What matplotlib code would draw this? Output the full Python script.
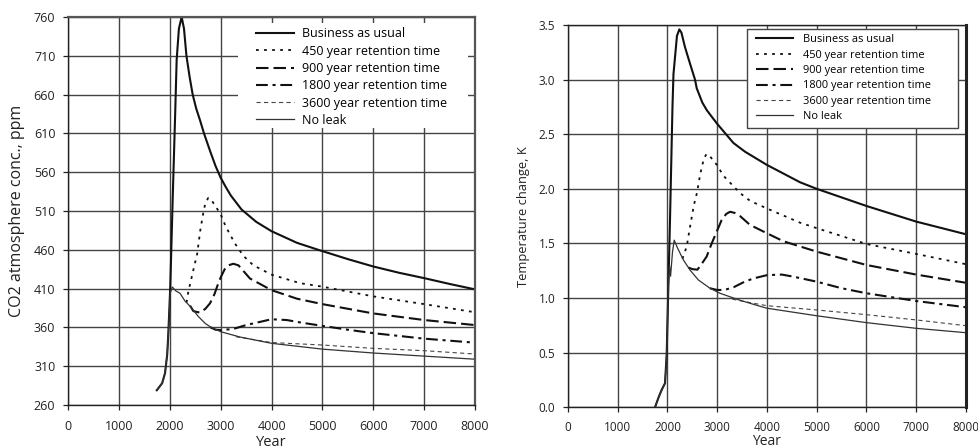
import matplotlib
matplotlib.use("Agg")
import matplotlib.pyplot as plt
from matplotlib.patches import Rectangle
from matplotlib.ticker import FormatStrFormatter

plt.rcParams['font.family'] = ['Open Sans', 'DejaVu Sans']
plt.rcParams['lines.scale_dashes'] = False

# ---------------- CO2 concentration (ppm) ----------------
co2_bau_years = [1745, 1850, 1907, 1950, 1972, 2010, 2057, 2103, 2136, 2180, 2234, 2280,
                 2328, 2390, 2451, 2520, 2595, 2673, 2800, 2900, 3000, 3100, 3200, 3410,
                 3700, 4000, 4500, 4918, 5500, 6000, 6500, 7000, 7500, 8000]
co2_bau = [279, 288, 301, 325, 352, 412, 524, 627, 705, 745, 760, 745,
           710, 683, 660, 642, 627, 610, 586, 568, 553, 541, 530, 512,
           496, 484, 469, 460, 448, 438.5, 430.5, 423.5, 416, 409]

co2_noleak_years = [1745, 1850, 1907, 1950, 1972, 2010, 2051, 2120, 2201, 2300, 2431, 2562,
                    2700, 2791, 3000, 3380, 4000, 5000, 6000, 7000, 8000]
co2_noleak = [279, 288, 301, 325, 352, 405, 412, 407, 404, 394, 385, 374,
              365, 361, 354.5, 347.6, 339.5, 332, 327, 323, 319]

co2_450_years = [2330, 2365, 2464, 2540, 2600, 2660, 2700, 2758, 2820, 2900, 3000, 3100,
                 3283, 3450, 3643, 4000, 4560, 5000, 6000, 7000, 8000]
co2_450 = [392, 406, 434, 455, 485, 508, 520, 527, 524, 516, 506, 490,
           468, 452, 440, 428, 417, 412.5, 400, 390, 379.5]

co2_900_years = [2400, 2464, 2595, 2700, 2791, 2880, 2955, 3005, 3080, 3152, 3250, 3350,
                 3577, 4000, 4500, 5000, 6000, 7000, 8000]
co2_900 = [388, 381, 379, 384, 391, 403, 417, 425, 435, 440, 442, 440,
           423, 408, 397, 390, 378, 369.5, 363]

co2_1800_years = [2800, 2900, 3000, 3250, 3500, 3700, 4000, 4300, 4600, 5000, 5500, 6000,
                  7000, 8000]
co2_1800 = [360, 357, 356.5, 358, 363, 366, 370.5, 369.5, 366, 362, 357, 352.6,
            345.5, 340.3]

co2_3600_years = [3300, 4000, 5000, 6000, 7000, 8000]
co2_3600 = [348, 340.5, 337.3, 333, 330, 325.7]

# ---------------- Temperature change (K) ----------------
t_bau_years = [1749, 1820, 1883, 1950, 1984, 2017, 2050, 2100, 2120, 2150, 2190, 2238,
               2280, 2350, 2450, 2553, 2588, 2700, 2790, 2990, 3325, 3558, 3995, 4665,
               5000, 6000, 7000, 8000]
t_bau = [0.0, 0.09, 0.16, 0.22, 0.49, 1.10, 1.71, 2.75, 3.05, 3.20, 3.40, 3.46,
         3.43, 3.30, 3.15, 3.00, 2.92, 2.79, 2.72, 2.60, 2.42, 2.34, 2.22, 2.06,
         2.00, 1.843, 1.70, 1.584]

t_noleak_years = [1749, 1820, 1883, 1950, 1984, 2017, 2040, 2062, 2100, 2135, 2200, 2318,
                  2452, 2620, 2854, 3055, 3457, 3859, 4000, 5000, 6000, 7000, 8000]
t_noleak = [0.0, 0.09, 0.16, 0.22, 0.49, 1.10, 1.30, 1.20, 1.42, 1.53, 1.46, 1.35,
            1.257, 1.166, 1.09, 1.044, 0.98, 0.925, 0.907, 0.838, 0.775, 0.723, 0.683]

t_450_years = [2300, 2385, 2452, 2530, 2590, 2660, 2733, 2787, 2850, 2990, 3125, 3333,
               3490, 3660, 4000, 4665, 5000, 6000, 7000, 8000]
t_450 = [1.36, 1.47, 1.65, 1.85, 1.96, 2.14, 2.28, 2.32, 2.30, 2.22, 2.12, 2.02,
         1.95, 1.89, 1.82, 1.69, 1.64, 1.495, 1.404, 1.31]

t_900_years = [2420, 2500, 2600, 2653, 2787, 2888, 3000, 3089, 3180, 3256, 3350, 3460,
               3658, 4000, 4330, 5000, 6000, 7000, 8000]
t_900 = [1.28, 1.265, 1.26, 1.29, 1.38, 1.50, 1.62, 1.715, 1.77, 1.79, 1.78, 1.75,
         1.67, 1.593, 1.52, 1.425, 1.303, 1.215, 1.14]

t_1800_years = [2850, 3000, 3150, 3333, 3550, 3730, 4000, 4300, 4530, 5000, 5500, 6000,
                7000, 8000]
t_1800 = [1.09, 1.074, 1.075, 1.10, 1.15, 1.18, 1.21, 1.215, 1.196, 1.15, 1.09, 1.044,
          0.973, 0.916]

t_3600_years = [3300, 3700, 4000, 5000, 6000, 7000, 8000]
t_3600 = [0.99, 0.955, 0.93, 0.891, 0.848, 0.80, 0.747]

labels = ["Business as usual", "450 year retention time", "900 year retention time",
          "1800 year retention time", "3600 year retention time", "No leak"]

x_ticks = [0, 1000, 2000, 3000, 4000, 5000, 6000, 7000, 8000]
co2_ticks = [260, 310, 360, 410, 460, 510, 560, 610, 660, 710, 760]
t_ticks = [0.0, 0.5, 1.0, 1.5, 2.0, 2.5, 3.0, 3.5]

styles = [
    dict(color="#111111", lw=1.5, ls="-"),
    dict(color="#111111", lw=1.3, ls=(0, (2.0, 3.8))),
    dict(color="#111111", lw=1.5, ls=(0, (9.0, 3.6))),
    dict(color="#111111", lw=1.5, ls=(0, (8.5, 3.4, 2.2, 3.4))),
    dict(color="#444444", lw=0.8, ls=(0, (3.0, 2.4))),
    dict(color="#333333", lw=0.9, ls="-"),
]

fig = plt.figure(figsize=(9.79, 4.48), dpi=100)
W, H = 979, 448


def px_axes(x0, y0, x1, y1):
    return fig.add_axes([x0 / W, 1 - y1 / H, (x1 - x0) / W, (y1 - y0) / H])


def style_axes(ax, yticks, ylim, fs, xpad, ypad):
    ax.set_xlim(0, 8000)
    ax.set_ylim(*ylim)
    ax.set_xticks(x_ticks)
    ax.set_yticks(yticks)
    ax.set_axisbelow(True)
    ax.grid(True, color="#444444", lw=1.0)
    ax.tick_params(direction="out", length=3.6, width=0.9, color="#222222",
                   labelsize=fs, labelcolor="#222222")
    ax.tick_params(axis="x", pad=xpad)
    ax.tick_params(axis="y", pad=ypad)
    for s in ax.spines.values():
        s.set_color("#222222")
        s.set_linewidth(1.0)


def draw_series(ax, series):
    handles = []
    for (xs, ys), st, lab in zip(series, styles, labels):
        h, = ax.plot(xs, ys, color=st["color"], lw=st["lw"], ls=st["ls"], label=lab,
                     zorder=2, solid_joinstyle="round")
        handles.append(h)
    return handles


# ---------------- left panel: CO2 ----------------
ax1 = px_axes(68, 17, 475, 405)
style_axes(ax1, co2_ticks, (260, 760), 9, 7.5, 5.5)
for side in ("top", "right"):
    ax1.spines[side].set_color("#555555")
    ax1.spines[side].set_linewidth(1.6)

handles1 = draw_series(ax1, [(co2_bau_years, co2_bau), (co2_450_years, co2_450),
                             (co2_900_years, co2_900), (co2_1800_years, co2_1800),
                             (co2_3600_years, co2_3600), (co2_noleak_years, co2_noleak)])

# white backing behind the legend, leaving the grid stubs at the frame edges
ax1.add_patch(Rectangle((0.418, 0.714), 0.565, 0.271, transform=ax1.transAxes,
                        facecolor="white", edgecolor="none", zorder=1))
ax1.legend(handles=handles1, loc="upper left", bbox_to_anchor=(0.462, 0.9735),
           frameon=False, fontsize=9, handlelength=3.0, handletextpad=0.65,
           labelspacing=0.345, borderpad=0, borderaxespad=0)
ax1.set_ylabel("CO2 atmosphere conc., ppm", fontsize=11.5, color="#222222", labelpad=6)
ax1.set_xlabel("Year", fontsize=10.5, color="#222222", labelpad=1)

# ---------------- right panel: temperature ----------------
ax2 = px_axes(568, 25, 966, 407.3)
style_axes(ax2, t_ticks, (0, 3.5), 8.5, 6.0, 5.5)
ax2.spines["right"].set_linewidth(2.2)
ax2.yaxis.set_major_formatter(FormatStrFormatter("%.1f"))

handles2 = draw_series(ax2, [(t_bau_years, t_bau), (t_450_years, t_450),
                             (t_900_years, t_900), (t_1800_years, t_1800),
                             (t_3600_years, t_3600), (t_noleak_years, t_noleak)])

ax2.add_patch(Rectangle((0.4497, 0.7306), 0.5302, 0.2589, transform=ax2.transAxes,
                        facecolor="white", edgecolor="#444444", lw=1.0, zorder=1))
ax2.legend(handles=handles2, loc="upper left", bbox_to_anchor=(0.4724, 0.9757),
           frameon=False, fontsize=7.9, handlelength=3.37, handletextpad=0.91,
           labelspacing=0.40, borderpad=0, borderaxespad=0)
ax2.set_ylabel("Temperature change, K", fontsize=9.3, color="#222222", labelpad=6)
ax2.set_xlabel("Year", fontsize=10, color="#222222", labelpad=0)

fig.savefig("out.png", dpi=100)
